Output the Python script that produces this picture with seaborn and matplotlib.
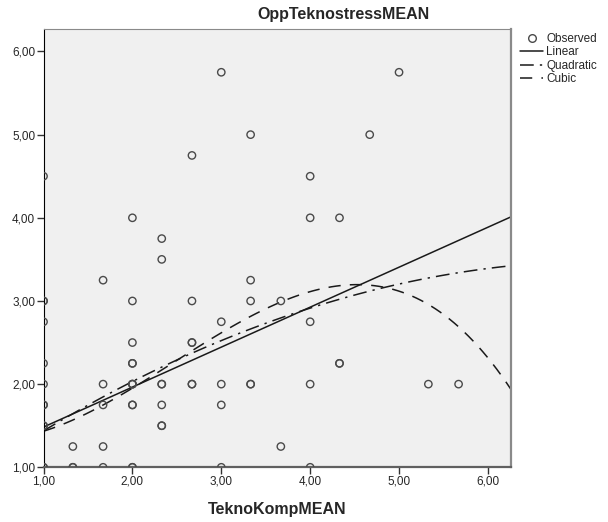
import numpy as np
import pandas as pd
import seaborn as sns
import matplotlib.pyplot as plt
from matplotlib.lines import Line2D

# Observed points (duplicates repeated so they draw darker, like the original)
obs_x = [1.00, 1.00, 1.00, 1.00, 1.00, 1.00, 1.00, 1.00, 1.00, 1.00, 1.00, 1.00,
         1.33, 1.33, 1.33,
         1.67, 1.67, 1.67, 1.67, 1.67,
         2.00, 2.00, 2.00, 2.00, 2.00, 2.00, 2.00, 2.00, 2.00, 2.00, 2.00, 2.00,
         2.33, 2.33, 2.33, 2.33, 2.33, 2.33, 2.33,
         2.67, 2.67, 2.67, 2.67, 2.67, 2.67,
         3.00, 3.00, 3.00, 3.00, 3.00,
         3.33, 3.33, 3.33, 3.33, 3.33,
         3.67, 3.67,
         4.00, 4.00, 4.00, 4.00, 4.00,
         4.33, 4.33, 4.33,
         4.67, 5.00, 5.33, 5.67]
obs_y = [4.50, 3.00, 3.00, 2.75, 2.25, 2.00, 1.75, 1.75, 1.50, 1.50, 1.00, 1.00,
         1.25, 1.00, 1.00,
         3.25, 2.00, 1.75, 1.25, 1.00,
         4.00, 3.00, 2.50, 2.25, 2.25, 2.00, 2.00, 2.00, 1.75, 1.75, 1.00, 1.00,
         3.75, 3.50, 2.00, 2.00, 1.75, 1.50, 1.50,
         4.75, 3.00, 2.50, 2.50, 2.00, 2.00,
         5.75, 2.75, 2.00, 1.75, 1.00,
         5.00, 3.25, 3.00, 2.00, 2.00,
         3.00, 1.25,
         4.50, 4.00, 2.75, 2.00, 1.00,
         4.00, 2.25, 2.25,
         5.00, 5.75, 2.00, 2.00]

# Fitted curves, values
lin_x = [1.00, 3.21, 4.86, 6.26]
lin_y = [1.49, 2.53, 3.35, 4.01]
quad_x = [1.00, 1.82, 2.46, 3.17, 4.00, 4.86, 5.54, 6.26]
quad_y = [1.46, 1.91, 2.25, 2.59, 2.95, 3.16, 3.33, 3.41]
cub_x = [1.00, 1.97, 3.12, 3.67, 4.00, 4.50, 4.78, 5.23, 5.68, 6.02, 6.26]
cub_y = [1.43, 1.95, 2.65, 3.00, 3.12, 3.21, 3.19, 3.01, 2.67, 2.25, 1.97]

tick_vals = [1, 2, 3, 4, 5, 6]
tick_labels = ['1,00', '2,00', '3,00', '4,00', '5,00', '6,00']

sns.set_style('ticks')
plt.rcParams['font.family'] = ['Liberation Sans', 'DejaVu Sans']

fig = plt.figure(figsize=(6.08, 5.22), dpi=100)
ax = fig.add_axes([0.0716, 0.1048, 0.7689, 0.8396])
ax.set_facecolor('#f0f0f0')

df = pd.DataFrame({'x': obs_x, 'y': obs_y})
sns.scatterplot(data=df, x='x', y='y', ax=ax, marker='o', s=28,
                facecolors='none', edgecolor='#4a4a4a', linewidth=1.0, zorder=3)

line_col = '#1a1a1a'
quad_ls = (0, (9, 4, 1.5, 4))
cub_ls = (0, (8, 6))
sns.regplot(x=np.array(lin_x), y=np.array(lin_y), order=1, ci=None, scatter=False, ax=ax,
            line_kws=dict(color=line_col, lw=1.1, ls='-'))
sns.regplot(x=np.array(quad_x), y=np.array(quad_y), order=2, ci=None, scatter=False, ax=ax,
            line_kws=dict(color=line_col, lw=1.1, ls=quad_ls))
sns.regplot(x=np.array(cub_x), y=np.array(cub_y), order=3, ci=None, scatter=False, ax=ax,
            line_kws=dict(color=line_col, lw=1.1, ls=cub_ls))

ax.set_xlim(1.0, 6.26)
ax.set_ylim(1.0, 6.27)
ax.set_xticks(tick_vals)
ax.set_xticklabels(tick_labels)
ax.set_yticks(tick_vals)
ax.set_yticklabels(tick_labels)
ax.tick_params(labelsize=8.5, length=5, width=1, color='#333333', pad=1)
ax.set_xlabel('TeknoKompMEAN', fontsize=11.5, fontweight='bold', labelpad=10)
ax.set_ylabel('')

ax.spines['left'].set_color('#000000')
ax.spines['bottom'].set_color('#606060')
ax.spines['bottom'].set_linewidth(1.6)
ax.spines['top'].set_color('#8a8a8a')
ax.spines['right'].set_color('#8a8a8a')
ax.spines['right'].set_linewidth(1.6)
for s in ax.spines.values():
    s.set_visible(True)

fig.text(0.565, 0.972, 'OppTeknostressMEAN', ha='center', va='center',
         fontsize=11.5, fontweight='bold')

handles = [
    Line2D([], [], marker='o', ls='none', mfc='none', mec='#4a4a4a', ms=5.5, mew=1),
    Line2D([], [], color=line_col, lw=1.1, ls='-'),
    Line2D([], [], color=line_col, lw=1.1, ls=quad_ls),
    Line2D([], [], color=line_col, lw=1.1, ls=cub_ls),
]
fig.legend(handles, ['Observed', 'Linear', 'Quadratic', 'Cubic'],
           loc='upper left', bbox_to_anchor=(0.855, 0.937), frameon=False,
           fontsize=8.5, handlelength=2.0, handletextpad=0.25, labelspacing=0.12,
           borderaxespad=0, borderpad=0)

fig.savefig('out.png', dpi=100)
